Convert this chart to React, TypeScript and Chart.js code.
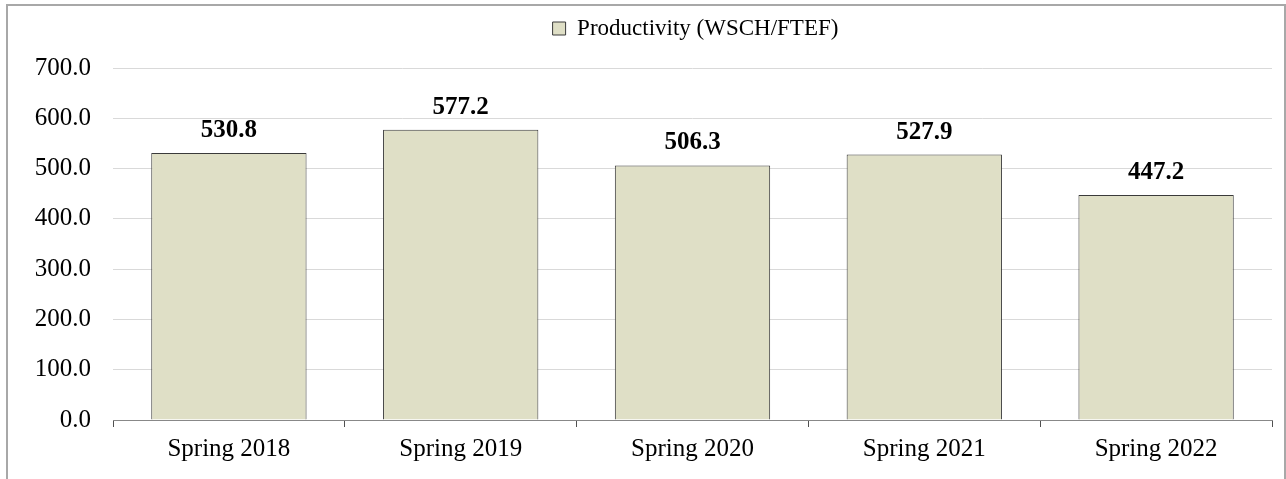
import { useEffect, useRef } from "react";
import { Chart, registerables } from "chart.js";

Chart.register(...registerables);

const categories = ["Spring 2018", "Spring 2019", "Spring 2020", "Spring 2021", "Spring 2022"];
const productivity = [530.8, 577.2, 506.3, 527.9, 447.2];
const seriesLabel = "Productivity (WSCH/FTEF)";
const yMin = 0;
const yMax = 700;
const yStep = 100;

const FONT = '"Liberation Serif", "Times New Roman", serif';

const dataLabels = {
  id: "dataLabels",
  afterDatasetsDraw(chart: any) {
    const ctx = chart.ctx;
    const meta = chart.getDatasetMeta(0);
    ctx.save();
    ctx.font = `bold 25px ${FONT}`;
    ctx.fillStyle = "#000";
    ctx.textAlign = "center";
    ctx.textBaseline = "alphabetic";
    meta.data.forEach((bar: any, i: number) => {
      ctx.fillText(productivity[i].toFixed(1), bar.x, bar.y - 16);
    });
    ctx.restore();
  },
};

const placeLegend = {
  id: "placeLegend",
  beforeDraw(chart: any) {
    const l = chart.legend;
    if (!l) return;
    const w = l.right - l.left;
    const h = l.bottom - l.top;
    const c = (chart.chartArea.left + chart.chartArea.right) / 2 + 3;
    l.left = c - w / 2;
    l.right = c + w / 2;
    l.top = 0;
    l.bottom = h;
  },
};

export default function App() {
  const ref = useRef<HTMLCanvasElement | null>(null);

  useEffect(() => {
    if (!ref.current) return;
    const chart = new Chart(ref.current, {
      type: "bar",
      data: {
        labels: categories,
        datasets: [
          {
            label: seriesLabel,
            data: productivity,
            backgroundColor: "#dfdfc6",
            borderColor: "#3a3a3a",
            borderWidth: 1,
            categoryPercentage: 1,
            barPercentage: 0.67,
          },
        ],
      },
      options: {
        responsive: false,
        animation: false,
        layout: { padding: { top: 18, right: 12, left: 0, bottom: 0 } },
        plugins: {
          legend: {
            position: "top",
            labels: {
              color: "#000",
              font: { family: FONT, size: 23 },
              boxWidth: 13,
              boxHeight: 13,
              padding: 11,
            },
          },
          tooltip: { enabled: false },
        },
        scales: {
          x: {
            offset: true,
            grid: {
              display: true,
              offset: true,
              drawOnChartArea: false,
              drawTicks: true,
              tickLength: 7,
              color: "#505050",
            },
            border: { display: true, color: "#888888", width: 1 },
            ticks: { color: "#000", font: { family: FONT, size: 25 }, padding: 7 },
            afterFit(scale: any) {
              scale.height = 58;
            },
          },
          y: {
            min: yMin,
            max: yMax,
            ticks: {
              stepSize: yStep,
              color: "#000",
              font: { family: FONT, size: 25 },
              padding: 22,
              callback: (v: any) => Number(v).toFixed(1),
            },
            grid: { color: "#d9d9d9", drawTicks: false },
            border: { display: false },
            afterFit(scale: any) {
              scale.width = 105;
            },
          },
        },
      },
      plugins: [dataLabels, placeLegend],
    });
    return () => chart.destroy();
  }, []);

  return (
    <div>
      <div
        style={{
          position: "absolute",
          left: 6,
          top: 4,
          width: 1280,
          height: 475,
          boxSizing: "border-box",
          borderTop: "2px solid #a8a8a8",
          borderLeft: "2px solid #a8a8a8",
          borderRight: "2px solid #a8a8a8",
        }}
      />
      <canvas
        ref={ref}
        width={1276}
        height={472}
        style={{ position: "absolute", left: 8, top: 6, width: 1276, height: 472 }}
      />
    </div>
  );
}
